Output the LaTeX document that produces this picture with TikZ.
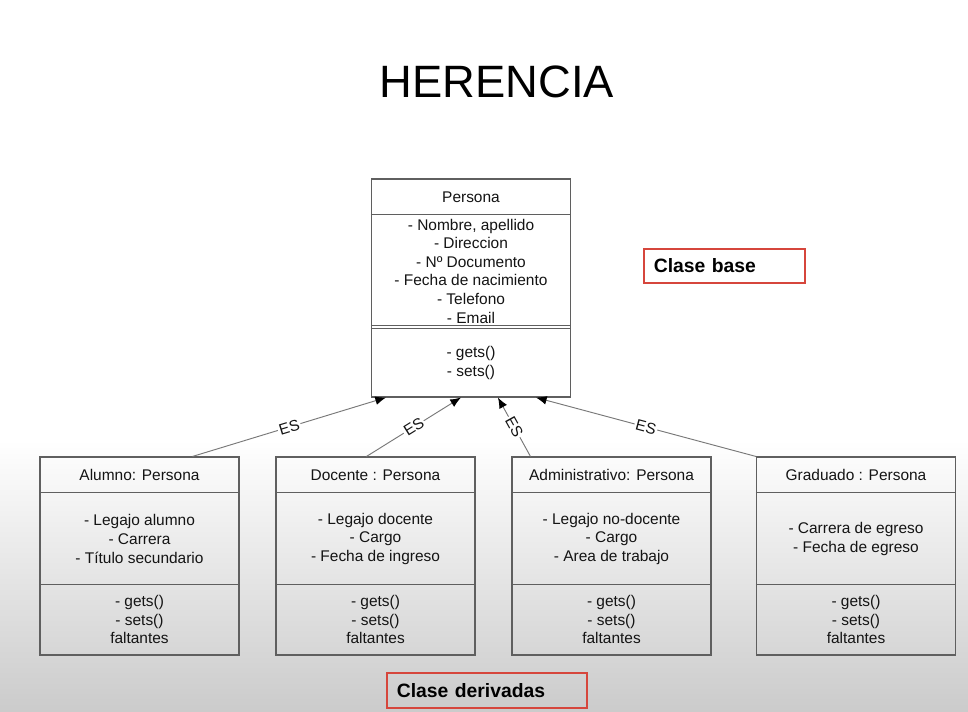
\documentclass[tikz,border=0pt]{standalone}
\usepackage{fontspec}
\setmainfont{Liberation Sans}
\usetikzlibrary{arrows.meta,calc}
\definecolor{boxline}{RGB}{95,95,95}
\definecolor{conn}{RGB}{120,120,120}
\definecolor{txt}{RGB}{20,20,20}
\definecolor{redline}{RGB}{214,70,60}
\definecolor{bottomgray}{RGB}{203,203,203}
\tikzset{
  umlbox/.style={draw=boxline, line width=0.8pt, minimum width=149.25pt, minimum height=148.5pt, inner sep=0pt},
  divider/.style={draw=boxline, line width=0.8pt},
  umltext/.style={text=txt, align=center, font=\fontsize{11.6}{13.95}\selectfont, inner sep=0pt},
  isa/.style={draw=conn, line width=0.7pt, -{Latex[length=8pt,width=6.5pt,color=black]}},
  eslabel/.style={midway, sloped, fill=white, inner sep=1pt, text=txt, font=\fontsize{11.6}{12}\selectfont},
  redbox/.style={draw=redline, line width=1.3pt, inner xsep=7.5pt, inner ysep=0pt, minimum height=26pt, align=left, text=black, font=\bfseries\fontsize{14.5}{16}\selectfont}
}
\begin{document}
\begin{tikzpicture}[x=0.75pt,y=-0.75pt]
\useasboundingbox (0,0) rectangle (968,712);
\fill[white] (0,0) rectangle (968,440);
\shade[top color=white, bottom color=bottomgray] (0,440) rectangle (968,712);

\node[text=black, font=\fontsize{34}{40}\selectfont, inner sep=0pt] (title) at (497,82) {HERENCIA};

% Persona
\node[umlbox, minimum height=163.5pt] (persona) at (471,288) {};
\draw[divider] ($(persona.north west)+(0,36)$) -- ($(persona.north east)+(0,36)$);
\draw[divider] ($(persona.north west)+(0,147)$) -- ($(persona.north east)+(0,147)$);
\draw[divider] ($(persona.north west)+(0,150)$) -- ($(persona.north east)+(0,150)$);
\node[umltext] (ptitle) at (471,197) {Persona};
\node[umltext] (pattr) at (471,271) {- Nombre, apellido\\- Direccion\\- Nº Documento\\- Fecha de nacimiento\\- Telefono\\- Email};
\node[umltext] (pmeth) at (471,363) {- gets()\\- sets()};

% Derived classes
\foreach \nm/\cx in {alumno/139.5, docente/375.5, admin/611.5, graduado/856}{
  \node[umlbox] (\nm) at (\cx,556) {};
  \draw[divider] ($(\nm.north west)+(0,36)$) -- ($(\nm.north east)+(0,36)$);
  \draw[divider] ($(\nm.north west)+(0,128)$) -- ($(\nm.north east)+(0,128)$);
  \node[umltext] (\nm meth) at (\cx,619.5) {- gets()\\- sets()\\faltantes};
}
\node[umltext] (alumnotitle) at (139.5,475) {Alumno: Persona};
\node[umltext] (alumnoattr) at (139.5,539) {- Legajo alumno\\- Carrera\\- Título secundario};
\node[umltext] (docentetitle) at (375.5,475) {Docente : Persona};
\node[umltext] (docenteattr) at (375.5,539) {- Legajo docente\\- Cargo\\- Fecha de ingreso};
\node[umltext] (admintitle) at (611.5,475) {Administrativo: Persona};
\node[umltext] (adminattr) at (611.5,539) {- Legajo no-docente\\- Cargo\\- Area de trabajo};
\node[umltext] (graduadotitle) at (856,475) {Graduado : Persona};
\node[umltext] (graduadoattr) at (856,539) {- Carrera de egreso\\- Fecha de egreso};

% Inheritance connectors
\draw[isa] ($(alumno.north west)+(153,0)$) -- node[eslabel] {ES} ($(persona.south west)+(15,0)$);
\draw[isa] ($(docente.north west)+(91,0)$) -- node[eslabel] {ES} ($(persona.south west)+(90,0)$);
\draw[isa] ($(admin.north west)+(19,0)$) -- node[eslabel] {ES} ($(persona.south west)+(127,0)$);
\draw[isa] (graduado.north west) -- node[eslabel] {ES} ($(persona.south west)+(165,0)$);

% Red labels
\node[redbox, text width=105.75pt, anchor=west] (base) at (643,266) {Clase base};
\node[redbox, text width=135pt, anchor=west] (derivadas) at (386,690.5) {Clase derivadas};
\end{tikzpicture}
\end{document}
